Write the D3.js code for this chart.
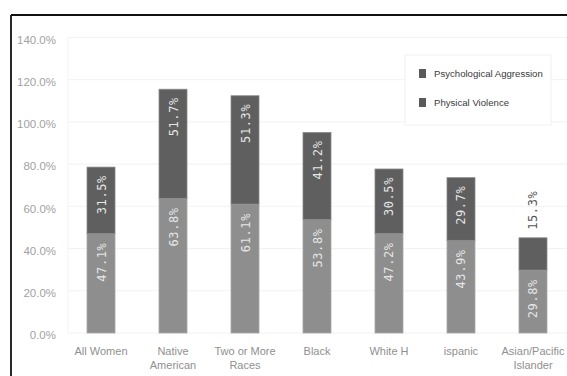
<!DOCTYPE html>
<html>
<head>
<meta charset="utf-8">
<script src="https://cdn.jsdelivr.net/npm/d3@7"></script>
<style>
  html, body { margin: 0; padding: 0; background: #fff; }
  svg { display: block; font-family: "Liberation Sans", Arial, sans-serif; }
</style>
</head>
<body>
<div id="chart"></div>
<script>
// categories (multi-line x labels)
var categories = ["All Women", "Native American", "Two or More Races", "Black", "White H", "ispanic", "Asian/Pacific Islander"]
var categoryLines = [["All Women"], ["Native", "American"], ["Two or More", "Races"], ["Black"], ["White H"], ["ispanic"], ["Asian/Pacific", "Islander"]]
// bottom segment (light) and top segment (dark)
var psychological = [47.1, 63.8, 61.1, 53.8, 47.2, 43.9, 29.8]
var physical = [31.5, 51.7, 51.3, 41.2, 30.5, 29.7, 15.3]
var yTicks = [0, 20, 40, 60, 80, 100, 120, 140]
var legendNames = ["Psychological Aggression", "Physical Violence"]

var width = 567, height = 376
var light = "#8e8e8e", dark = "#5f5f5f"

var svg = d3.select("#chart").append("svg").attr("width", width).attr("height", height)

// frame lines (top and left)
svg.append("line").attr("x1", 11).attr("x2", width).attr("y1", 15).attr("y2", 15)
  .attr("stroke", "#111").attr("stroke-width", 1.8)
svg.append("line").attr("x1", 11).attr("x2", 11).attr("y1", 15).attr("y2", height)
  .attr("stroke", "#111").attr("stroke-width", 1.8)

var x = d3.scaleBand().domain(categories).range([68, 566]).paddingInner(0.611).paddingOuter(0.264)
var y = d3.scaleLinear().domain([0, 140]).range([333, 37.5])

//gridlines
svg.append("g").selectAll("line").data(yTicks).enter().append("line")
  .attr("x1", 68).attr("x2", width)
  .attr("y1", d => y(d)).attr("y2", d => y(d))
  .attr("stroke", "#f2f2f2").attr("stroke-width", 1)
svg.append("line").attr("x1", 68).attr("x2", 68).attr("y1", y(140)).attr("y2", y(0))
  .attr("stroke", "#f3f3f3")

//y axis
var yAxis = svg.append("g").attr("transform", "translate(58,0)")
  .call(d3.axisLeft(y).tickValues(yTicks).tickSize(0).tickPadding(2).tickFormat(d => d.toFixed(1) + "%"))
yAxis.select(".domain").remove()
yAxis.selectAll("text").attr("fill", "#a2a2a2").attr("font-size", 11.5).attr("dy", "0.5em")

//x labels
var xl = svg.append("g").selectAll("text").data(categories).enter().append("text")
  .attr("x", d => x(d) + x.bandwidth() / 2)
  .attr("y", 355)
  .attr("text-anchor", "middle")
  .attr("fill", "#909090").attr("font-size", 11)
xl.each(function (d, i) {
  var t = d3.select(this)
  categoryLines[i].forEach((line, j) => {
    t.append("tspan").attr("x", x(d) + x.bandwidth() / 2).attr("dy", j == 0 ? 0 : 14).text(line)
  })
})

//bars
var bars = svg.append("g").selectAll("g").data(categories).enter().append("g")
bars.append("rect")
  .attr("x", d => x(d)).attr("width", x.bandwidth())
  .attr("y", (d, i) => y(psychological[i]))
  .attr("height", (d, i) => y(0) - y(psychological[i]))
  .attr("fill", light).attr("stroke", "#a8a8a8").attr("stroke-width", 0.8)
bars.append("rect")
  .attr("x", d => x(d)).attr("width", x.bandwidth())
  .attr("y", (d, i) => y(psychological[i] + physical[i]))
  .attr("height", (d, i) => y(psychological[i]) - y(psychological[i] + physical[i]))
  .attr("fill", dark).attr("stroke", "#8a8a8a").attr("stroke-width", 0.8)

function vlabel(g, cx, yy, txt, anchor, fill) {
  g.append("text")
    .attr("transform", "translate(" + (cx + 4.5) + "," + yy + ") rotate(-90)")
    .attr("text-anchor", anchor)
    .attr("font-family", "DejaVu Sans Mono, monospace")
    .attr("font-size", 12).attr("letter-spacing", 0.6)
    .attr("fill", fill).text(txt)
}
bars.each(function (d, i) {
  var g = d3.select(this)
  var cx = x(d) + x.bandwidth() / 2
  vlabel(g, cx, y(psychological[i]) + 9, psychological[i].toFixed(1) + "%", "end", "#e6e6e6")
  var top = y(psychological[i] + physical[i])
  if (y(psychological[i]) - top > 45) {
    vlabel(g, cx, top + 8, physical[i].toFixed(1) + "%", "end", "#e6e6e6")
  } else {
    vlabel(g, cx, top - 8, physical[i].toFixed(1) + "%", "start", "#555")
  }
})

//legend
var lg = svg.append("g")
lg.append("rect").attr("x", 405).attr("y", 55).attr("width", 146).attr("height", 70)
  .attr("fill", "#fff").attr("stroke", "#f0f0f0")
legendNames.forEach((name, i) => {
  lg.append("rect").attr("x", 419).attr("y", 69 + i * 29).attr("width", 7).attr("height", 9)
    .attr("fill", "#5a5a5a")
  lg.append("text").attr("x", 434).attr("y", 77 + i * 29)
    .attr("font-size", 9.6).attr("fill", "#3a3a3a").text(name)
})
</script>
</body>
</html>
